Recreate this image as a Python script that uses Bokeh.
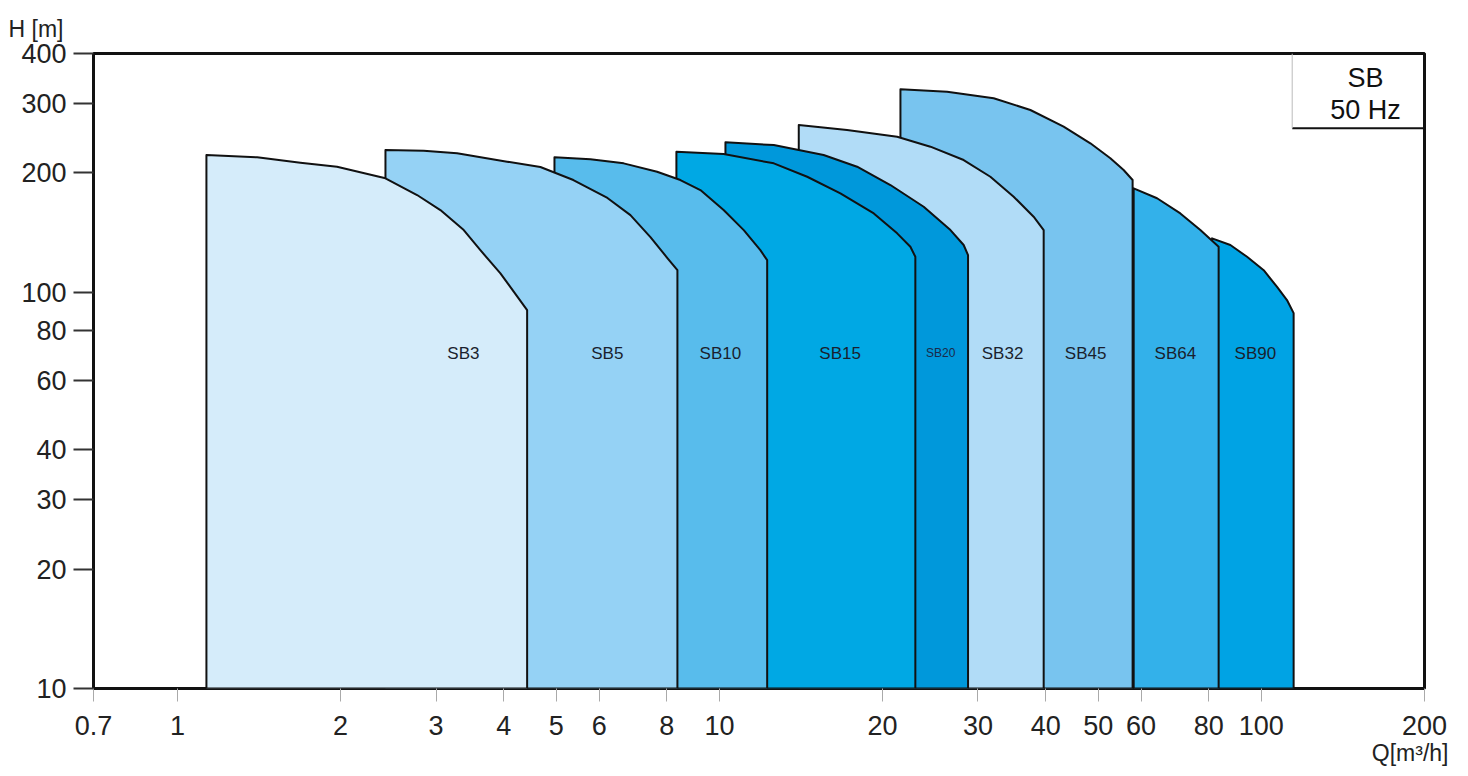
from bokeh.plotting import figure
from bokeh.models import Range1d, FixedTicker, CustomJSTickFormatter, Label, ColumnDataSource, Title
from bokeh.core.properties import value
from bokeh.embed import file_html
from bokeh.resources import INLINE

# ---------------- data ----------------
pumps = ["SB3", "SB5", "SB10", "SB15", "SB20", "SB32", "SB45", "SB64", "SB90"]

sb3_q = [1.131, 1.403, 1.686, 1.970, 2.420, 2.768, 3.056, 3.375, 3.622, 3.944, 4.418]
sb3_h = [221.8, 218.8, 212.1, 207.2, 193.7, 175.8, 161.1, 143.4, 127.6, 111.5, 90.1]

sb5_q = [2.420, 2.847, 3.281, 4.058, 4.674, 5.377, 6.214, 6.852, 7.460, 8.017, 8.366]
sb5_h = [228.4, 227.5, 224.1, 213.4, 206.9, 191.8, 172.8, 156.4, 137.7, 121.9, 113.6]

sb10_q = [4.962, 5.781, 6.659, 7.674, 8.472, 9.224, 10.18, 11.09, 11.90, 12.25]
sb10_h = [218.8, 216.3, 211.3, 201.3, 191.8, 180.9, 161.1, 143.4, 127.6, 120.4]

sb15_q = [8.33, 10.18, 12.60, 14.52, 16.72, 19.27, 21.28, 22.51, 22.99]
sb15_h = [226.1, 223.1, 211.3, 195.5, 177.5, 158.0, 140.7, 130.2, 122.8]

sb20_q = [10.26, 12.60, 15.57, 17.95, 20.68, 23.82, 26.69, 28.23, 28.76]
sb20_h = [238.8, 235.0, 221.8, 207.2, 186.3, 164.2, 143.4, 131.5, 124.0]

sb32_q = [14.01, 17.20, 21.28, 24.51, 28.23, 31.62, 34.91, 38.00, 39.66]
sb32_h = [264.1, 256.5, 246.7, 232.8, 215.4, 195.5, 174.1, 155.0, 143.4]

sb45_q = [21.58, 26.31, 32.07, 37.48, 43.17, 48.36, 52.65, 55.70, 57.87]
sb45_h = [325.1, 320.5, 308.4, 288.1, 261.5, 237.4, 217.6, 203.3, 191.8]

sb64_q = [58.13, 64.2, 70.88, 77.17, 83.4]
sb64_h = [182.8, 172.5, 158.0, 143.4, 130.2]

sb90_q = [81.1, 87.66, 94.1, 101.0, 106.9, 111.5, 114.7]
sb90_h = [136.7, 131.5, 122.8, 113.6, 103.1, 95.5, 88.5]

label_q = [3.37, 6.21, 10.04, 16.7, 25.6, 33.3, 47.4, 69.4, 97.5]
label_h = [70.2] * 9

x_ticks = [0.7, 1, 2, 3, 4, 5, 6, 8, 10, 20, 30, 40, 50, 60, 80, 100, 200]
y_ticks = [10, 20, 30, 40, 60, 80, 100, 200, 300, 400]

h_min = 10
box_q = 114
box_h = 259
box_text_q = 155.6
box_text_h = [347, 288]
box_text = ["SB", "50 Hz"]

# ---------------- styles ----------------
fills = ["#d5ecfa", "#95d2f5", "#58bcec", "#00a8e4", "#0098db",
         "#b1dcf7", "#78c4ef", "#33b1ea", "#00a3e4"]
FONT = "Liberation Sans"

curves = [(sb3_q, sb3_h), (sb5_q, sb5_h), (sb10_q, sb10_h), (sb15_q, sb15_h),
          (sb20_q, sb20_h), (sb32_q, sb32_h), (sb45_q, sb45_h), (sb64_q, sb64_h),
          (sb90_q, sb90_h)]

p = figure(width=1460, height=775, x_axis_type="log", y_axis_type="log",
           x_range=Range1d(0.7, 200), y_range=Range1d(10, 400),
           output_backend="svg", toolbar_location=None,
           min_border_left=93, min_border_right=36, min_border_top=53, min_border_bottom=87)
p.background_fill_color = "white"
p.border_fill_color = "white"
p.outline_line_color = "#111111"
p.outline_line_width = 3
p.grid.visible = False

# polygons drawn from last to first so lower-flow pumps sit on top
xs, ys, cs = [], [], []
for (q, h), c in list(zip(curves, fills))[::-1]:
    xs.append([q[0]] + list(q) + [q[-1]])
    ys.append([h_min] + list(h) + [h_min])
    cs.append(c)
p.patches(xs=xs, ys=ys, fill_color=cs, line_color="#111111", line_width=2, line_join="round")

# pump labels
big = [i for i, n in enumerate(pumps) if n != "SB20"]
small = [i for i, n in enumerate(pumps) if n == "SB20"]
src_big = ColumnDataSource(dict(x=[label_q[i] for i in big], y=[label_h[i] for i in big],
                                t=[pumps[i] for i in big]))
src_small = ColumnDataSource(dict(x=[label_q[i] for i in small], y=[label_h[i] for i in small],
                                  t=[pumps[i] for i in small]))
p.text(x="x", y="y", text="t", source=src_big, text_align="center", text_baseline="middle",
       text_font=value(FONT), text_font_size="17px", text_color="#1a1f2e")
p.text(x="x", y="y", text="t", source=src_small, text_align="center", text_baseline="middle",
       text_font=value(FONT), text_font_size="12px", text_color="#1a2a4a")

# legend box
p.segment(x0=[box_q], y0=[box_h], x1=[200], y1=[box_h], line_color="#111111", line_width=2)
p.segment(x0=[box_q], y0=[box_h], x1=[box_q], y1=[400], line_color="#bbbbbb", line_width=1)
for t, yv in zip(box_text, box_text_h):
    p.add_layout(Label(x=box_text_q, y=yv, text=t, text_align="center", text_baseline="middle",
                       text_font=FONT, text_font_size="27px", text_color="#111111"))

# axes
xa = p.xaxis[0]
xa.ticker = FixedTicker(ticks=x_ticks, minor_ticks=[])
xa.formatter = CustomJSTickFormatter(code="return tick.toString();")
xa.axis_line_color = None
xa.major_tick_in = 0
xa.major_tick_out = 13
xa.major_tick_line_color = "#aaaaaa"
xa.major_tick_line_width = 1
xa.minor_tick_line_color = None
xa.major_label_standoff = 14
xa.major_label_text_font = FONT
xa.major_label_text_font_size = "27px"
xa.major_label_text_color = "#222222"

ya = p.yaxis[0]
ya.ticker = FixedTicker(ticks=y_ticks, minor_ticks=[])
ya.formatter = CustomJSTickFormatter(code="return tick.toString();")
ya.axis_line_color = None
ya.major_tick_in = 0
ya.major_tick_out = 20
ya.major_tick_line_color = "#333333"
ya.major_tick_line_width = 2
ya.minor_tick_line_color = None
ya.major_label_standoff = 7
ya.major_label_text_font = FONT
ya.major_label_text_font_size = "27px"
ya.major_label_text_color = "#222222"

# axis titles
p.title.text = "H [m]"
p.title.align = "left"
p.title.offset = -85
p.title.standoff = 24
p.title.text_font = FONT
p.title.text_font_size = "23px"
p.title.text_font_style = "normal"
p.title.text_color = "#222222"

p.add_layout(Title(text="Q[m³/h]", align="right", offset=-24, standoff=0,
                   text_font=FONT, text_font_size="23px", text_font_style="normal",
                   text_color="#222222"), "below")

open("out.html", "w").write(file_html(p, INLINE))
